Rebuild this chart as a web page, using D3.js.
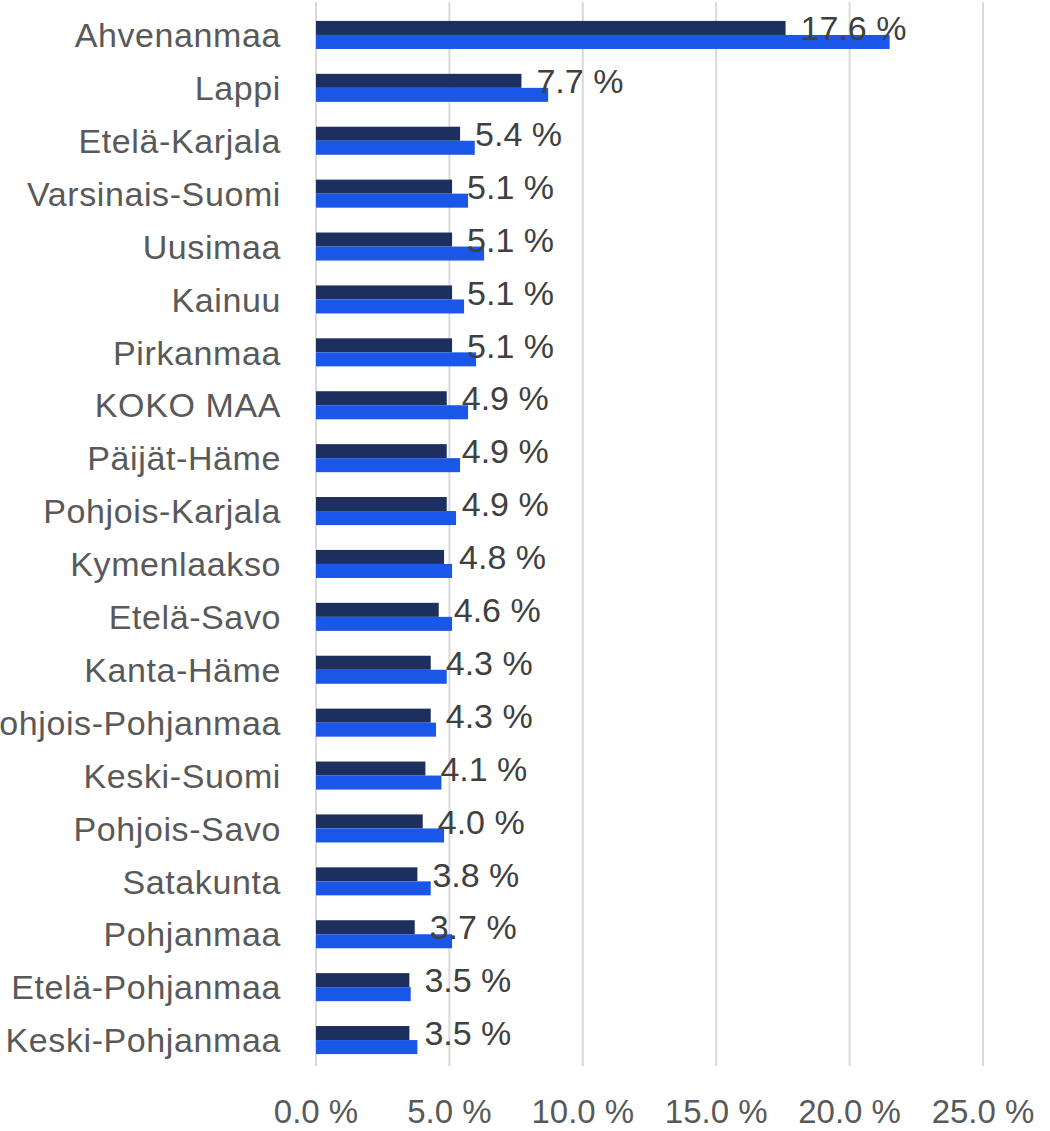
<!DOCTYPE html>
<html>
<head>
<meta charset="utf-8">
<script src="https://cdn.jsdelivr.net/npm/d3@7"></script>
<style>
  body { margin: 0; background: #fff; }
  text { font-family: "Liberation Sans", Arial, sans-serif; }
</style>
</head>
<body>
<svg width="1050" height="1131"></svg>
<script>
const regions = ['Ahvenanmaa', 'Lappi', 'Etelä-Karjala', 'Varsinais-Suomi', 'Uusimaa', 'Kainuu',
  'Pirkanmaa', 'KOKO MAA', 'Päijät-Häme', 'Pohjois-Karjala', 'Kymenlaakso', 'Etelä-Savo',
  'Kanta-Häme', 'Pohjois-Pohjanmaa', 'Keski-Suomi', 'Pohjois-Savo', 'Satakunta', 'Pohjanmaa',
  'Etelä-Pohjanmaa', 'Keski-Pohjanmaa']

// dark series (labelled) and bright series
const seriesA = [17.6, 7.7, 5.4, 5.1, 5.1, 5.1, 5.1, 4.9, 4.9, 4.9, 4.8, 4.6, 4.3, 4.3, 4.1, 4.0, 3.8, 3.7, 3.5, 3.5]
const seriesB = [21.5, 8.7, 5.95, 5.7, 6.3, 5.55, 6.0, 5.7, 5.4, 5.25, 5.1, 5.1, 4.9, 4.5, 4.7, 4.8, 4.3, 5.1, 3.55, 3.8]

const xTicks = [0, 5, 10, 15, 20, 25]

const svg = d3.select('svg')

const x = d3.scaleLinear().domain([0, 25]).range([316, 983])

const y = d3.scaleBand()
  .domain(regions)
  .range([8.5, 1066.5])
  .paddingInner(0.47)
  .paddingOuter(0.235)

const ySub = d3.scaleBand().domain(['a', 'b']).range([0, y.bandwidth()])

const fmt = v => v.toFixed(1) + ' %'

// gridlines
svg.append('g')
  .selectAll('line')
  .data(xTicks)
  .enter()
  .append('line')
  .attr('x1', d => x(d))
  .attr('x2', d => x(d))
  .attr('y1', 2)
  .attr('y2', 1066)
  .attr('stroke', '#d9d9d9')
  .attr('stroke-width', 2)

const rows = regions.map((r, i) => ({ region: r, a: seriesA[i], b: seriesB[i] }))

const g = svg.append('g')
  .selectAll('g')
  .data(rows)
  .enter()
  .append('g')
  .attr('transform', d => 'translate(0,' + y(d.region) + ')')

g.append('rect')
  .attr('x', x(0))
  .attr('y', ySub('a'))
  .attr('width', d => x(d.a) - x(0))
  .attr('height', ySub.bandwidth())
  .attr('fill', '#1c2f5e')

g.append('rect')
  .attr('x', x(0))
  .attr('y', ySub('b'))
  .attr('width', d => x(d.b) - x(0))
  .attr('height', ySub.bandwidth())
  .attr('fill', '#1a56e8')

g.append('text')
  .attr('x', d => x(d.a) + 15)
  .attr('y', ySub('a') + ySub.bandwidth() / 2)
  .attr('dy', '0.36em')
  .attr('font-size', 34)
  .attr('fill', '#404040')
  .text(d => fmt(d.a))

// category labels
svg.append('g')
  .selectAll('text')
  .data(regions)
  .enter()
  .append('text')
  .attr('x', 281)
  .attr('y', d => y(d) + y.bandwidth() / 2)
  .attr('dy', '0.36em')
  .attr('text-anchor', 'end')
  .attr('font-size', 34)
  .attr('letter-spacing', 0.6)
  .attr('fill', '#595959')
  .text(d => d)

// x tick labels
svg.append('g')
  .selectAll('text')
  .data(xTicks)
  .enter()
  .append('text')
  .attr('x', d => x(d))
  .attr('y', 1123)
  .attr('text-anchor', 'middle')
  .attr('font-size', 33)
  .attr('fill', '#595959')
  .text(d => fmt(d))
</script>
</body>
</html>
